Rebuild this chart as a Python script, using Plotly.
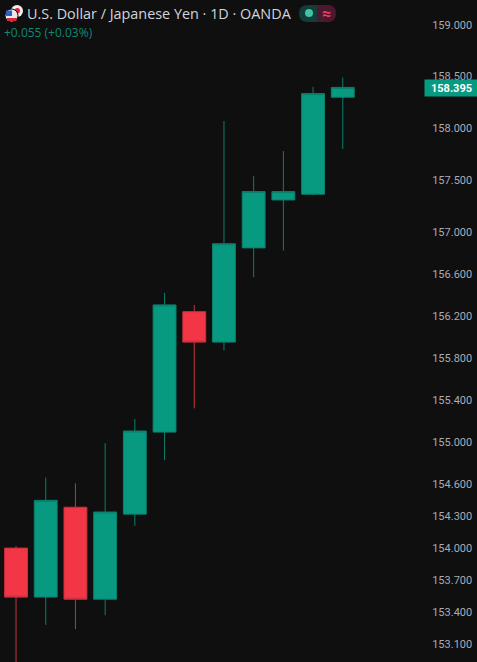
import plotly.graph_objects as go

# data
sessions = list(range(12))
opens  = [154.00, 153.54, 154.385, 153.52, 154.32, 155.095, 156.24, 155.95, 156.85, 157.31, 157.365, 158.30]
highs  = [154.02, 154.665, 154.61, 154.99, 155.22, 156.42, 156.305, 158.07, 157.54, 157.78, 158.40, 158.49]
lows   = [152.90, 153.28, 153.24, 153.37, 154.21, 154.83, 155.32, 155.87, 156.57, 156.825, 157.355, 157.80]
closes = [153.54, 154.45, 153.52, 154.34, 155.105, 156.305, 155.95, 156.89, 157.39, 157.39, 158.335, 158.395]
price_ticks = [159.0, 158.5, 158.0, 157.5, 157.0, 156.6, 156.2, 155.8, 155.4, 155.0, 154.6, 154.3, 154.0, 153.7, 153.4, 153.1]
tick_labels = [f"{t:.3f}" for t in price_ticks]
last_price = 158.395
title_text = "U.S. Dollar / Japanese Yen · 1D · OANDA"
change_text = "+0.055 (+0.03%)"

W, H = 477, 662
MR = 53
BG = "#0f0f0f"
FONT = "Roboto"
GREEN = "#089981"
RED = "#f23645"


def px(x):
    return x / (W - MR)


def py(y):
    return 1 - y / H


fig = go.Figure(go.Candlestick(
    x=sessions, open=opens, high=highs, low=lows, close=closes,
    increasing=dict(fillcolor=GREEN, line=dict(color="#0b7f6c", width=1)),
    decreasing=dict(fillcolor=RED, line=dict(color="#c9303f", width=1)),
    whiskerwidth=0, showlegend=False, hoverinfo="skip",
))

fig.update_layout(
    width=W, height=H, autosize=False,
    margin=dict(l=0, r=MR, t=0, b=0),
    paper_bgcolor=BG, plot_bgcolor=BG,
    boxgap=0.23, boxgroupgap=0,
    showlegend=False,
    font=dict(family=FONT, color="#b2b5be", size=12),
    xaxis=dict(range=[-0.54, 13.735], visible=False, rangeslider=dict(visible=False), showgrid=False, zeroline=False, fixedrange=True),
    yaxis=dict(
        type="log", side="right", range=[2.18450, 2.20206],
        tickmode="array", tickvals=price_ticks, ticktext=tick_labels,
        showgrid=False, zeroline=False, showline=False, ticks="outside", ticklen=5, tickcolor=BG,
        tickfont=dict(family=FONT, size=11, color="#a9acb3"), fixedrange=True,
    ),
    shapes=[
        dict(type="circle", xref="paper", yref="paper", x0=px(11), x1=px(23), y0=py(17), y1=py(5), fillcolor="#f0f0f0", line=dict(width=0)),
        dict(type="circle", xref="paper", yref="paper", x0=px(14.5), x1=px(20), y0=py(13.5), y1=py(8), fillcolor="#e0203a", line=dict(width=0)),
        dict(type="circle", xref="paper", yref="paper", x0=px(5), x1=px(18), y0=py(22), y1=py(9), fillcolor="#e8e8e8", line=dict(color=BG, width=1)),
        dict(type="rect", xref="paper", yref="paper", x0=px(7), x1=px(16.5), y0=py(21), y1=py(18), fillcolor="#d8283c", line=dict(width=0)),
        dict(type="rect", xref="paper", yref="paper", x0=px(6), x1=px(12), y0=py(16), y1=py(10.5), fillcolor="#2f5fc0", line=dict(width=0)),
        dict(type="path", xref="paper", yref="paper", line=dict(width=0), fillcolor="#123d38",
             path=f"M {px(308)} {py(5)} L {px(317)} {py(5)} L {px(317)} {py(22)} L {px(308)} {py(22)} Q {px(299)} {py(22)} {px(299)} {py(13.5)} Q {px(299)} {py(5)} {px(308)} {py(5)} Z"),
        dict(type="path", xref="paper", yref="paper", line=dict(width=0), fillcolor="#4a1a2c",
             path=f"M {px(317)} {py(5)} L {px(328)} {py(5)} Q {px(336)} {py(5)} {px(336)} {py(13.5)} Q {px(336)} {py(22)} {px(328)} {py(22)} L {px(317)} {py(22)} Z"),
        dict(type="circle", xref="paper", yref="paper", x0=px(305), x1=px(313), y0=py(17), y1=py(9), fillcolor="#3fc4a8", line=dict(width=0)),
    ],
    annotations=[
        dict(text=title_text, xref="paper", yref="paper", x=px(25), y=py(13.5), xanchor="left", yanchor="middle",
             showarrow=False, font=dict(family="Open Sans", size=14.4, color="#d1d4dc")),
        dict(text=change_text, xref="paper", yref="paper", x=px(2), y=py(32.5), xanchor="left", yanchor="middle",
             showarrow=False, font=dict(family="Open Sans", size=12, color="#0c8a75")),
        dict(text="<b>≈</b>", xref="paper", yref="paper", x=px(326), y=py(13), xanchor="center", yanchor="middle",
             showarrow=False, font=dict(family=FONT, size=16, color="#f23a6a")),
        dict(text=f"<b>{last_price:.3f}</b>", xref="x domain", yref="y", x=1, y=2.19973,
             xanchor="left", yanchor="middle", showarrow=False, bgcolor=GREEN, width=53, height=16,
             align="center", borderpad=0, font=dict(family=FONT, size=11, color="#ffffff")),
    ],
)
fig.write_html("out.html", config=dict(displayModeBar=False),
               post_script="document.body.style.margin='0';document.body.style.background='#0f0f0f';document.documentElement.style.overflow='hidden';")
